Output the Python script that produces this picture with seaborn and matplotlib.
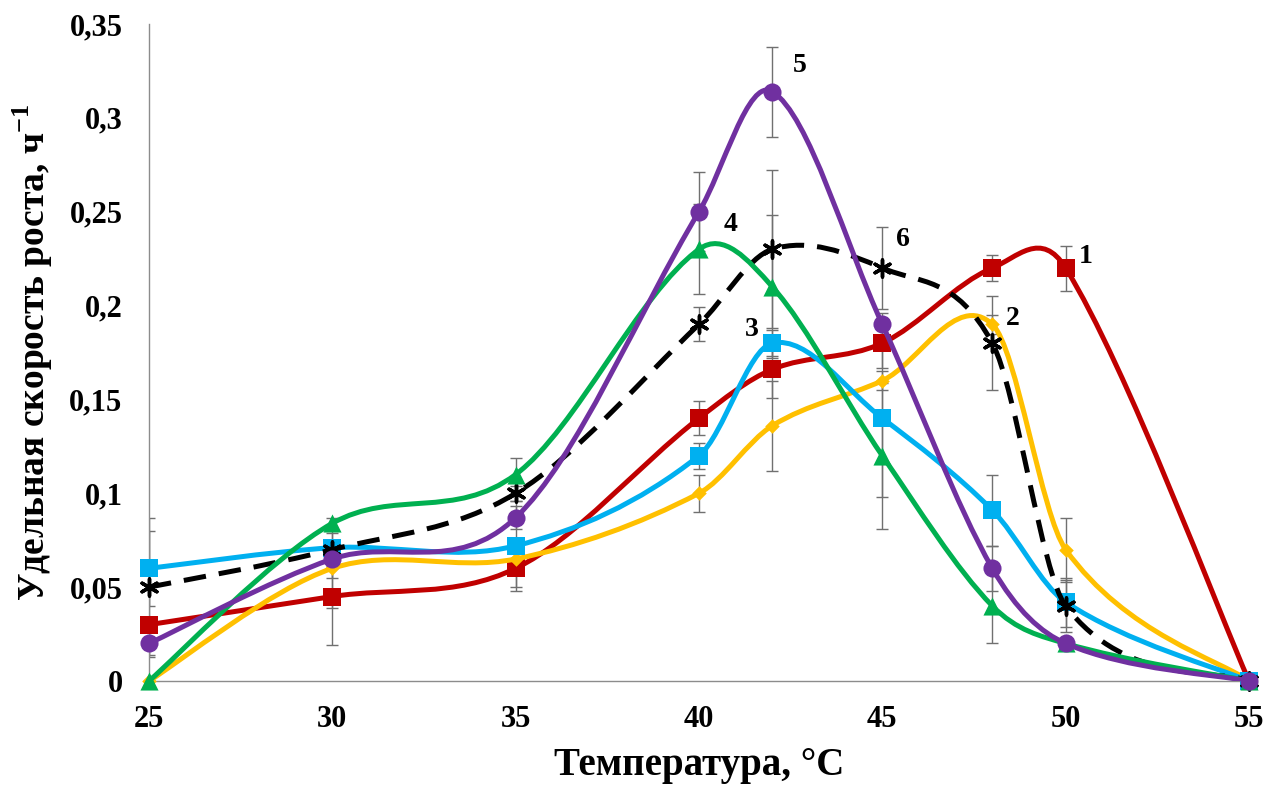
import numpy as np
import pandas as pd
import matplotlib
matplotlib.use("Agg")
import matplotlib.pyplot as plt
import seaborn as sns
from matplotlib.path import Path
from matplotlib.patches import PathPatch
from matplotlib.ticker import FuncFormatter, MultipleLocator

# температура, °C
temps = [25, 30, 35, 40, 42, 45, 48, 50, 55]

# удельная скорость роста по кривым 1..6
s1 = [0.030, 0.045, 0.060, 0.140, 0.166, 0.180, 0.220, 0.220, 0.0]
s2 = [0.0, 0.060, 0.065, 0.100, 0.136, 0.160, 0.190, 0.070, 0.0]
s3 = [0.060, 0.071, 0.072, 0.120, 0.180, 0.140, 0.091, 0.042, 0.0]
s4 = [0.0, 0.084, 0.110, 0.230, 0.210, 0.120, 0.040, 0.020, 0.0]
s5 = [0.020, 0.065, 0.087, 0.250, 0.314, 0.190, 0.060, 0.020, 0.0]
s6 = [0.050, 0.070, 0.100, 0.190, 0.230, 0.220, 0.180, 0.040, 0.0]

# погрешности
e1 = [0.003, 0.026, 0.010, 0.009, 0.015, 0.013, 0.007, 0.012, 0.0]
e2 = [0.0, 0.021, 0.003, 0.010, 0.024, 0.005, 0.005, 0.017, 0.0]
e3 = [0.020, 0.003, 0.024, 0.007, 0.007, 0.042, 0.019, 0.013, 0.0]
e4 = [0.0, 0.003, 0.009, 0.024, 0.038, 0.039, 0.020, 0.0, 0.0]
e5 = [0.006, 0.010, 0.006, 0.021, 0.024, 0.006, 0.012, 0.0, 0.0]
e6 = [0.037, 0.009, 0.004, 0.009, 0.042, 0.022, 0.025, 0.014, 0.0]

labels = ["1", "2", "3", "4", "5", "6"]
label_pos = [(50.55, 0.226), (48.55, 0.193), (41.45, 0.187),
             (40.85, 0.243), (42.75, 0.328), (45.55, 0.235)]


def smooth_path(x, y):
    # сглаженная линия как в Excel: кубические Безье по касательным
    x = np.asarray(x, float)
    y = np.asarray(y, float)
    n = len(x)
    m = np.zeros(n)
    for i in range(n):
        if i == 0:
            m[i] = (y[1] - y[0]) / (x[1] - x[0])
        elif i == n - 1:
            m[i] = (y[-1] - y[-2]) / (x[-1] - x[-2])
        else:
            m[i] = (y[i + 1] - y[i - 1]) / (x[i + 1] - x[i - 1])
    verts = [(x[0], y[0])]
    codes = [Path.MOVETO]
    for i in range(n - 1):
        h = x[i + 1] - x[i]
        k0 = h / 3
        k1 = h / 3
        # крайние отрезки почти прямые
        if i == 0:
            k0 = h / 6
        if i == n - 2:
            k1 = h / 6
        verts += [(x[i] + k0, y[i] + m[i] * k0),
                  (x[i + 1] - k1, y[i + 1] - m[i + 1] * k1),
                  (x[i + 1], y[i + 1])]
        codes += [Path.CURVE4] * 3
    return Path(verts, codes)


sns.set_style("white")
plt.rcParams["font.family"] = ["Liberation Serif", "DejaVu Serif"]
plt.rcParams["font.weight"] = "bold"
plt.rcParams["text.color"] = "black"
plt.rcParams["axes.labelcolor"] = "black"
plt.rcParams["xtick.color"] = "black"
plt.rcParams["ytick.color"] = "black"
plt.rcParams["mathtext.fontset"] = "custom"
plt.rcParams["mathtext.rm"] = "Liberation Serif:bold"
plt.rcParams["mathtext.bf"] = "Liberation Serif:bold"

fig = plt.figure(figsize=(12.83, 7.87), dpi=100)
ax = fig.add_axes([0.1161, 0.1347, 0.8574, 0.8348])

series = [
    (s1, e1, "#C00000", "s", 170, "-"),
    (s2, e2, "#FFC000", "D", 55, "-"),
    (s3, e3, "#00B0F0", "s", 160, "-"),
    (s6, e6, "black", (6, 2, 0), 150, "--"),
    (s4, e4, "#00B050", "^", 170, "-"),
    (s5, e5, "#7030A0", "o", 170, "-"),
]

for vals, errs, col, mk, size, ls in series:
    ax.errorbar(temps, vals, yerr=errs, fmt="none", ecolor="#707070",
                elinewidth=1, capsize=4, capthick=1, zorder=1)

for z, (vals, errs, col, mk, size, ls) in enumerate(series):
    patch = PathPatch(smooth_path(temps, vals), facecolor="none", edgecolor=col,
                      lw=3.6, linestyle=ls, zorder=2 + z * 2, capstyle="butt")
    if ls == "--":
        patch.set_linestyle((0, (4.5, 2.6)))
    ax.add_patch(patch)
    df = pd.DataFrame({"t": temps, "v": vals})
    if mk == (6, 2, 0):
        sns.scatterplot(data=df, x="t", y="v", marker=mk, s=size, color=col,
                        linewidth=2.5, ax=ax, zorder=3 + z * 2, clip_on=False)
    else:
        sns.scatterplot(data=df, x="t", y="v", marker=mk, s=size, color=col,
                        edgecolor=col, linewidth=0, ax=ax, zorder=3 + z * 2,
                        clip_on=False)

for lab, (lx, ly) in zip(labels, label_pos):
    ax.text(lx, ly, lab, fontsize=20, fontweight="bold", ha="center", va="center",
            color="black", zorder=20)

ax.set_xlim(25, 55)
ax.set_ylim(0, 0.35)
ax.xaxis.set_major_locator(MultipleLocator(5))
ax.yaxis.set_major_locator(MultipleLocator(0.05))
ax.yaxis.set_major_formatter(FuncFormatter(lambda v, p: f"{round(v, 2):g}".replace(".", ",")))

for side in ["top", "right"]:
    ax.spines[side].set_visible(False)
for side in ["left", "bottom"]:
    ax.spines[side].set_color("#8c8c8c")
    ax.spines[side].set_linewidth(1)

ax.tick_params(axis="both", direction="out", length=7, width=1, color="#8c8c8c",
               labelsize=22, labelcolor="black")
ax.tick_params(axis="x", pad=10)
ax.tick_params(axis="y", pad=12)
for t in ax.get_xticklabels() + ax.get_yticklabels():
    t.set_fontweight("bold")

ax.set_xlabel("Температура, °C", fontsize=28, fontweight="bold", labelpad=10)
ax.set_ylabel("Удельная скорость роста, ч$^{-1}$", fontsize=27, fontweight="bold",
              labelpad=10)

fig.savefig("out.png", dpi=100)
